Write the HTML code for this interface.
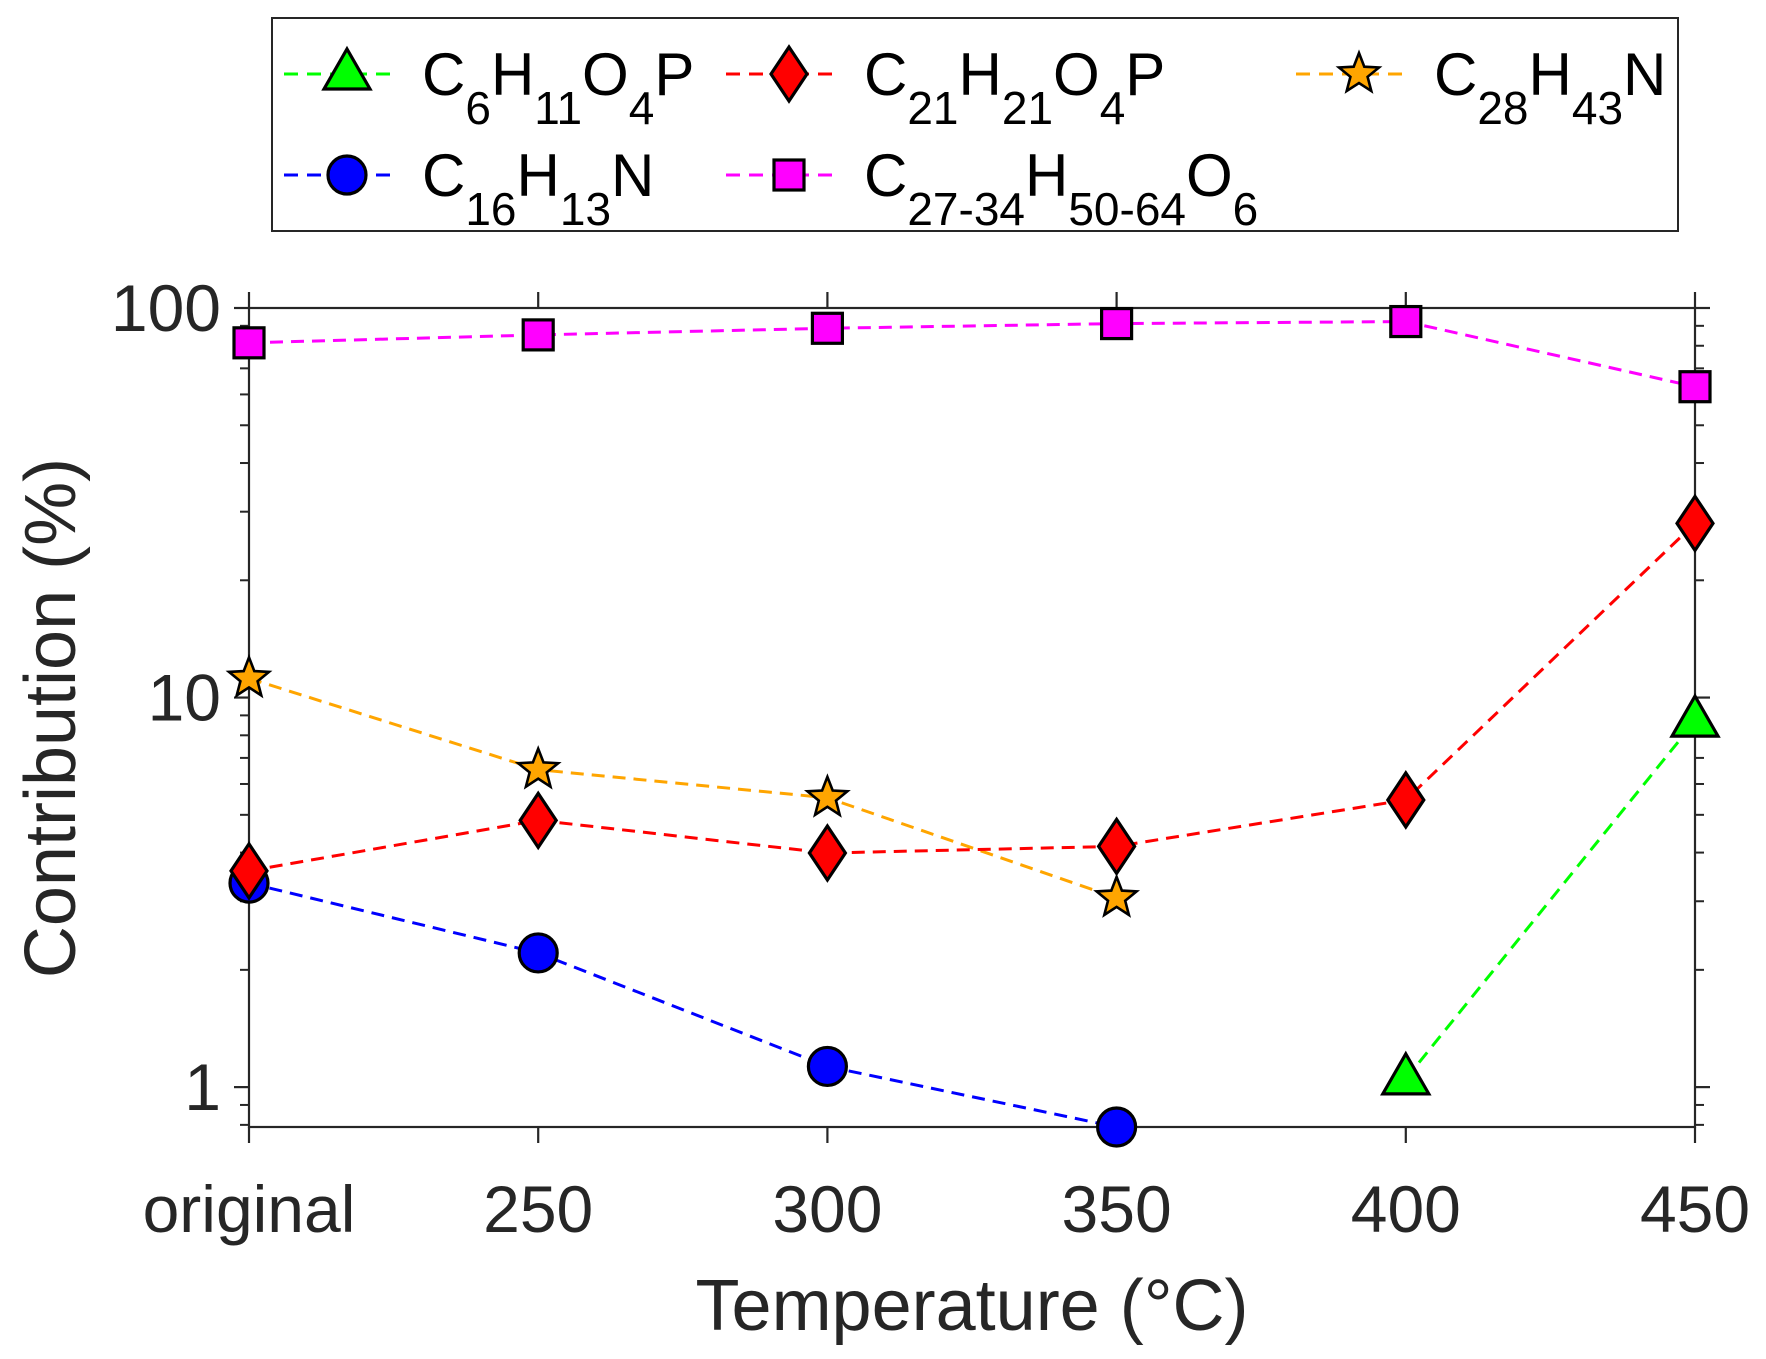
<!DOCTYPE html>
<html><head><meta charset="utf-8"><style>
body{margin:0;background:#fff}
svg{display:block;font-family:"Liberation Sans",Arial,sans-serif}
</style></head><body>
<svg id="chart" width="1766" height="1359" viewBox="0 0 1766 1359">
<g id="legend"></g>
<g id="axes"></g>
<g id="series"></g>
</svg>
<script>
const categories = ["original","250","300","350","400","450"];
const seriesNames = ["C6H11O4P","C21H21O4P","C28H43N","C16H13N","C27-34H50-64O6"];
const valsGreen   = [null,null,null,null,1.05,8.7];
const valsRed     = [3.59,4.84,3.99,4.15,5.46,28.0];
const valsOrange  = [11.2,6.53,5.53,3.06,null,null];
const valsBlue    = [3.34,2.21,1.13,0.79,null,null];
const valsMagenta = [81.4,85.3,88.7,91.2,92.3,62.8];
const yTickValues = [1,10,100];
const yTickLabels = ["1","10","100"];

const NS="http://www.w3.org/2000/svg";
const L=249,R=1695,T=308,B=1127,YMIN=0.79,YMAX=100;
function xs(i){return L+(R-L)*i/(categories.length-1);}
function ys(v){return B-(Math.log10(v)-Math.log10(YMIN))/(Math.log10(YMAX)-Math.log10(YMIN))*(B-T);}
function mk(tag,attrs,parent){const e=document.createElementNS(NS,tag);for(const k in attrs)e.setAttribute(k,attrs[k]);parent.appendChild(e);return e;}
const axes=document.getElementById('axes'),ser=document.getElementById('series'),leg=document.getElementById('legend');
const AX="#262626";
let fr=mk('rect',{x:L,y:T,width:R-L,height:B-T,fill:'none',stroke:AX,'stroke-width':2.2},axes);


categories.forEach((c,i)=>{
  const x=xs(i);
  let t=mk('line',{x1:x,x2:x,y1:B,y2:B+16,stroke:AX,'stroke-width':2.2},axes);
  
  
  mk('line',{x1:x,x2:x,y1:T,y2:T-16,stroke:AX,'stroke-width':2.2},axes);
  let lb=mk('text',{x:x,y:1232,'font-size':66,fill:AX,'text-anchor':'middle'},axes);
  lb.textContent=c;
  
  
});
yTickValues.forEach((v,i)=>{
  const y=ys(v);
  let t=mk('line',{x1:L-15,x2:L,y1:y,y2:y,stroke:AX,'stroke-width':2.2},axes);
  
  
  mk('line',{x1:R,x2:R+15,y1:y,y2:y,stroke:AX,'stroke-width':2.2},axes);
  let lb=mk('text',{x:L-28,y:y+23,'font-size':66,fill:AX,'text-anchor':'end'},axes);
  lb.textContent=yTickLabels[i];
  
  
});
for(let d=0.1;d<=10;d*=10){for(let m=2;m<=9;m++){const v=d*m*1.0000001;if(v<YMIN||v>YMAX)continue;const y=ys(v);
  mk('line',{x1:L-9,x2:L,y1:y,y2:y,stroke:AX,'stroke-width':2},axes);
  mk('line',{x1:R,x2:R+9,y1:y,y2:y,stroke:AX,'stroke-width':2},axes);}}
let xt=mk('text',{x:972,y:1330,'font-size':72,fill:AX,'text-anchor':'middle'},axes);
xt.textContent="Temperature (°C)";


let yt=mk('text',{x:0,y:0,'font-size':72,fill:AX,'text-anchor':'middle',transform:'translate(75,718) rotate(-90)'},axes);
yt.textContent="Contribution (%)";



function marker(type,x,y,fill,parent){
  const a={fill:fill,stroke:'#000','stroke-width':3.2};let e;
  if(type==='tri'){a.points=`${x},${y-25} ${x+23},${y+15} ${x-23},${y+15}`;e=mk('polygon',a,parent);}
  else if(type==='dia'){a.points=`${x},${y-27} ${x+18},${y} ${x},${y+27} ${x-18},${y}`;e=mk('polygon',a,parent);}
  else if(type==='circ'){a.cx=x;a.cy=y;a.r=19;e=mk('circle',a,parent);}
  else if(type==='sq'){a.x=x-15;a.y=y-15;a.width=30;a.height=30;e=mk('rect',a,parent);}
  else {let p=[];for(let k=0;k<10;k++){const r=k%2?9:21;const an=-Math.PI/2+k*Math.PI/5;p.push((x+r*Math.cos(an)).toFixed(1)+','+(y+r*Math.sin(an)).toFixed(1));}
    a.points=p.join(' ');a['stroke-width']=2.6;e=mk('polygon',a,parent);}
  return e;
}
const defs=[
 {vals:valsMagenta,color:'#ff00ff',m:'sq',name:'series-c27-34h50-64o6'},
 {vals:valsOrange,color:'#ffa500',m:'star',name:'series-c28h43n'},
 {vals:valsBlue,color:'#0000ff',m:'circ',name:'series-c16h13n'},
 {vals:valsRed,color:'#ff0000',m:'dia',name:'series-c21h21o4p'},
 {vals:valsGreen,color:'#00ff00',m:'tri',name:'series-c6h11o4p'}];
defs.forEach(d=>{
  const g=mk('g',{},ser);
  
  
  let pts=[];d.vals.forEach((v,i)=>{if(v!=null)pts.push([xs(i),ys(v)]);});
  let ln=mk('polyline',{points:pts.map(p=>p.join(',')).join(' '),fill:'none',stroke:d.color,'stroke-width':3,'stroke-dasharray':'13,8'},g);
  
  
  pts.forEach(p=>{const e=marker(d.m,p[0],p[1],d.color,g);
    
    });
});
let lbx=mk('rect',{x:272,y:18,width:1406,height:213,fill:'#fff',stroke:'#262626','stroke-width':2},leg);


const legItems=[
 {x:284,y:74,color:'#00ff00',m:'tri',parts:[['C',0],['6',1],['H',0],['11',1],['O',0],['4',1],['P',0]]},
 {x:726,y:74,color:'#ff0000',m:'dia',parts:[['C',0],['21',1],['H',0],['21',1],['O',0],['4',1],['P',0]]},
 {x:1296,y:74,color:'#ffa500',m:'star',parts:[['C',0],['28',1],['H',0],['43',1],['N',0]]},
 {x:284,y:175,color:'#0000ff',m:'circ',parts:[['C',0],['16',1],['H',0],['13',1],['N',0]]},
 {x:726,y:175,color:'#ff00ff',m:'sq',parts:[['C',0],['27-34',1],['H',0],['50-64',1],['O',0],['6',1]]}];
legItems.forEach(it=>{
  const g=mk('g',{},leg);
  
  
  mk('line',{x1:it.x,x2:it.x+112,y1:it.y,y2:it.y,stroke:it.color,'stroke-width':3,'stroke-dasharray':'14,9'},g);
  marker(it.m,it.x+63,it.y,it.color,g);
  const t=mk('text',{x:it.x+138,y:it.y+21,fill:'#000','font-size':60},g);
  it.parts.forEach(p=>{const s=mk('tspan',{},t);s.textContent=p[0];
    if(p[1]){s.setAttribute('font-size','46');s.setAttribute('dy','29');}
    else if(t.childNodes.length>1){s.setAttribute('dy','-29');}});
});
</script>
</body></html>
